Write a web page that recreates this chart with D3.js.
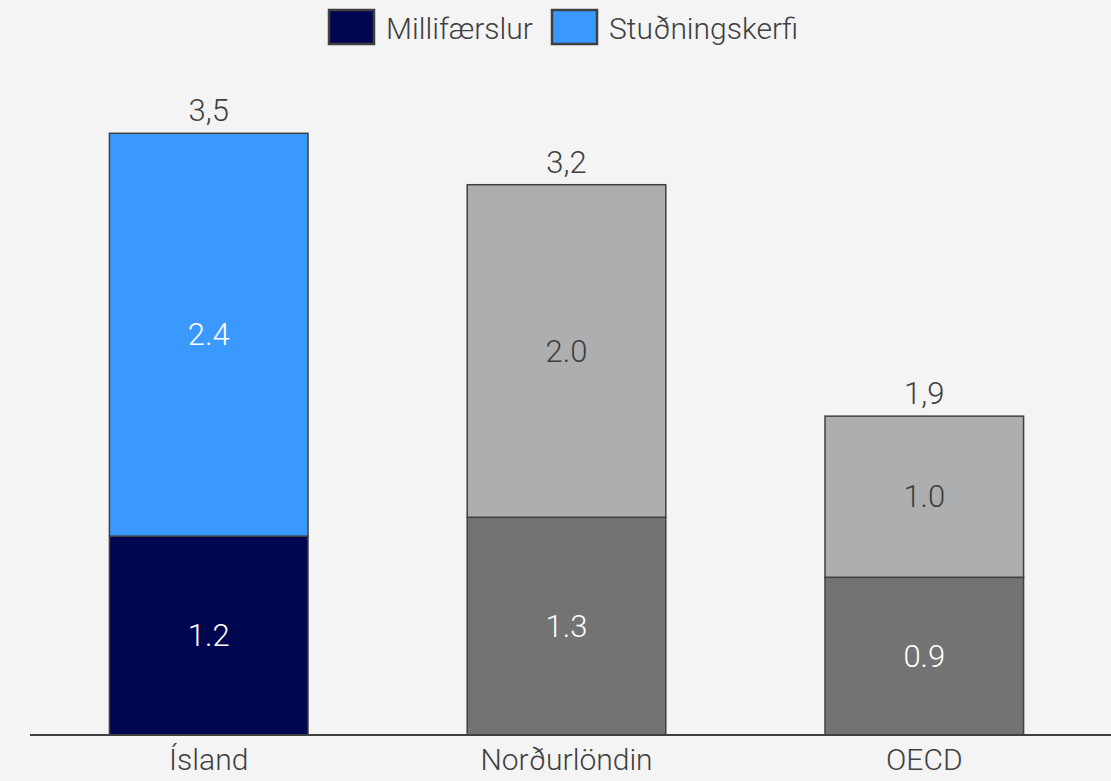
<!DOCTYPE html>
<html><head><meta charset="utf-8">
<script src="https://cdn.jsdelivr.net/npm/d3@7"></script>
<style>body{margin:0;background:#f4f4f4;}svg{display:block;font-family:Roboto,"Liberation Sans",sans-serif;}</style>
</head><body>
<script>
const categories = ["Ísland", "Norðurlöndin", "OECD"];
const seriesNames = ["Millifærslur", "Stuðningskerfi"];
const bottomValues = [1.16, 1.27, 0.92];
const topValues = [2.35, 1.94, 0.94];
const bottomLabels = ["1.2", "1.3", "0.9"];
const topLabels = ["2.4", "2.0", "1.0"];
const totalLabels = ["3,5", "3,2", "1,9"];

const W = 1111, H = 781;
const bottomColors = ["#00064f", "#737373", "#737373"];
const topColors = ["#3a98ff", "#adaeb0", "#adaeb0"];
const bottomText = ["#ffffff", "#ffffff", "#ffffff"];
const topText = ["#ffffff", "#404040", "#404040"];
const legendColors = ["#00064f", "#3a98ff"];

const svg = d3.select("body").append("svg").attr("width", W).attr("height", H);
svg.append("rect").attr("width", W).attr("height", H).attr("fill", "#f4f4f4");

const x = d3.scaleBand().domain(categories).range([30, 1103]).paddingInner(0.445).paddingOuter(0.222);
const y = d3.scaleLinear().domain([0, 3.5]).range([735, 135]);

const rows = categories.map((c, i) => ({c, i, b: bottomValues[i], t: topValues[i]}));

const g = svg.append("g");
g.selectAll(".bot").data(rows).join("rect")
  .attr("x", d => x(d.c)).attr("width", x.bandwidth())
  .attr("y", d => y(d.b)).attr("height", d => y(0) - y(d.b))
  .attr("fill", d => bottomColors[d.i]).attr("stroke", "#404040").attr("stroke-width", 1.5);
g.selectAll(".top").data(rows).join("rect")
  .attr("x", d => x(d.c)).attr("width", x.bandwidth())
  .attr("y", d => y(d.b + d.t)).attr("height", d => y(d.b) - y(d.b + d.t))
  .attr("fill", d => topColors[d.i]).attr("stroke", "#404040").attr("stroke-width", 1.5);

const fs = 31;
g.selectAll(".bl").data(rows).join("text")
  .attr("x", d => x(d.c) + x.bandwidth()/2).attr("y", d => (y(0) + y(d.b))/2)
  .attr("text-anchor", "middle").attr("dominant-baseline", "central")
  .attr("font-size", fs).attr("font-weight", 300).attr("fill", d => bottomText[d.i])
  .text(d => bottomLabels[d.i]);
g.selectAll(".tl").data(rows).join("text")
  .attr("x", d => x(d.c) + x.bandwidth()/2).attr("y", d => (y(d.b) + y(d.b + d.t))/2)
  .attr("text-anchor", "middle").attr("dominant-baseline", "central")
  .attr("font-size", fs).attr("font-weight", 300).attr("fill", d => topText[d.i])
  .text(d => topLabels[d.i]);
g.selectAll(".tot").data(rows).join("text")
  .attr("x", d => x(d.c) + x.bandwidth()/2).attr("y", d => y(d.b + d.t) - 12)
  .attr("text-anchor", "middle")
  .attr("font-size", fs).attr("font-weight", 300).attr("fill", "#404040")
  .text(d => totalLabels[d.i]);

// axis
const axis = svg.append("g").attr("transform", "translate(0,735)")
  .call(d3.axisBottom(x).tickSize(0).tickPadding(14));
axis.select(".domain").attr("d", "M30,0H1111").attr("stroke", "#404040").attr("stroke-width", 2);
axis.selectAll("text").attr("font-size", 30).attr("font-weight", 300).attr("fill", "#404040")
  .attr("font-family", "Roboto,'Liberation Sans',sans-serif");

// legend
const legendX = [329, 552];
const lg = svg.append("g");
seriesNames.forEach((s, i) => {
  lg.append("rect").attr("x", legendX[i]).attr("y", 10).attr("width", 45).attr("height", 34)
    .attr("fill", legendColors[i]).attr("stroke", "#404040").attr("stroke-width", 2.5);
  lg.append("text").attr("x", legendX[i] + 57).attr("y", 28).attr("dominant-baseline", "central")
    .attr("font-size", 30).attr("font-weight", 300).attr("fill", "#404040").text(s);
});
</script>
</body></html>
